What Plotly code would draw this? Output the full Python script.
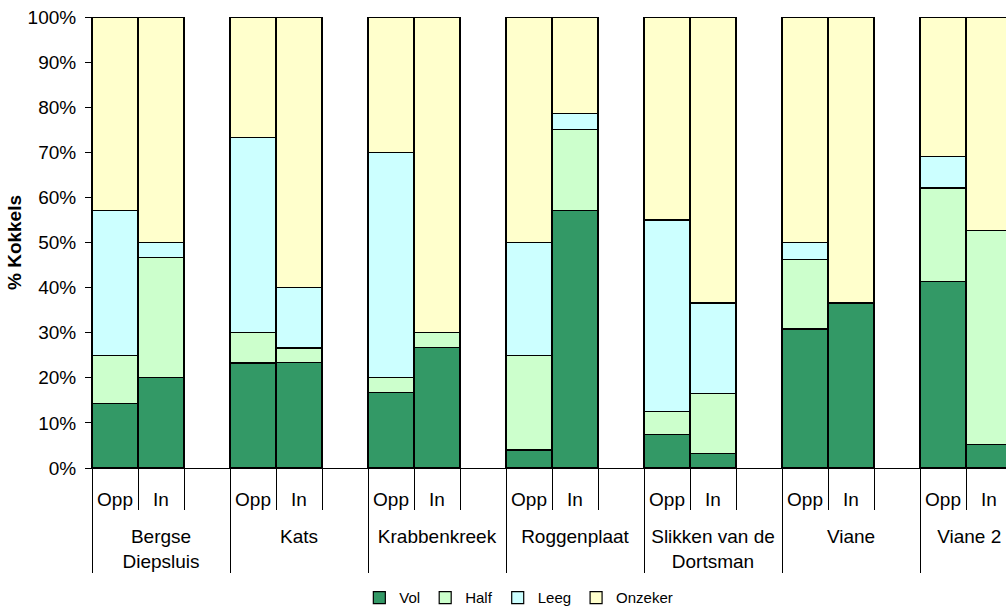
import plotly.graph_objects as go

# ---- data (percent of cockles per category) ----
sites = ["Bergse<br>Diepsluis", "Kats", "Krabbenkreek", "Roggenplaat",
         "Slikken van de<br>Dortsman", "Viane", "Viane 2"]
positions = ["Opp", "In"]

vol_opp = [14.3, 23.3, 16.7, 4.0, 7.5, 30.8, 41.4]
half_opp = [10.7, 6.7, 3.3, 21.0, 5.0, 15.4, 20.7]
leeg_opp = [32.1, 43.3, 50.0, 25.0, 42.5, 3.8, 6.9]
onz_opp = [42.9, 26.7, 30.0, 50.0, 45.0, 50.0, 31.0]

vol_in = [20.0, 23.3, 26.7, 57.1, 3.3, 36.6, 5.3]
half_in = [26.7, 3.3, 3.3, 17.9, 13.3, 0.0, 47.4]
leeg_in = [3.3, 13.3, 0.0, 3.6, 20.0, 0.0, 0.0]
onz_in = [50.0, 60.0, 70.0, 21.4, 63.4, 63.4, 47.4]

series = [
    ("Vol", vol_opp, vol_in, "#339966"),
    ("Half", half_opp, half_in, "#CCFFCC"),
    ("Leeg", leeg_opp, leeg_in, "#CCFFFF"),
    ("Onzeker", onz_opp, onz_in, "#FFFFCC"),
]

FONT = "Liberation Sans, Arial, sans-serif"
FS = 19
SLOTS = 3  # Opp, In, empty slot per site
xmax = 914 / 46  # visible part of the category axis (last group is clipped)

# x slot positions derived from category index
xpos, xlab = [], []
for i in range(len(sites)):
    for j, p in enumerate(positions):
        xpos.append(SLOTS * i + j + 0.5)
        xlab.append(p)
sub_div = [SLOTS * i + j for i in range(len(sites)) for j in (1, 2)]
grp_div = [SLOTS * i for i in range(len(sites) + 1)]
# group label centres, kept inside the visible area (like the original)
grp_ctr = [min(SLOTS * i + SLOTS / 2, xmax - 0.8) for i in range(len(sites))]

fig = go.Figure()
for name, o, n, col in series:
    vals = []
    for a, b in zip(o, n):
        vals += [a, b]
    fig.add_trace(go.Bar(
        x=xpos, y=vals, name=name, width=1,
        marker=dict(color=col, line=dict(color="black", width=1.2)),
    ))
# invisible trace to carry the secondary x axis (site labels)
fig.add_trace(go.Scatter(x=[grp_ctr[0]], y=[None], xaxis="x2", yaxis="y",
                         showlegend=False, hoverinfo="skip"))

fig.update_layout(
    width=1006, height=608,
    margin=dict(l=92, r=0, t=17, b=140, autoexpand=False),
    barmode="stack", barnorm="percent",
    paper_bgcolor="white", plot_bgcolor="white",
    font=dict(family=FONT, size=FS, color="black"),
    xaxis=dict(
        range=[0, xmax], tickmode="array", tickvals=xpos, ticktext=xlab,
        ticks="", showline=True, linecolor="black", linewidth=1,
        showgrid=False, zeroline=False, ticklabelstandoff=14,
        ticklabeloverflow="allow", tickfont=dict(size=FS),
        minor=dict(tickmode="array", tickvals=sub_div, ticks="outside",
                   ticklen=41, tickcolor="black", tickwidth=1, showgrid=False),
    ),
    xaxis2=dict(
        range=[0, xmax], overlaying="x", anchor="y", side="bottom",
        tickmode="array", tickvals=grp_ctr, ticktext=sites, ticks="",
        showline=False, showgrid=False, zeroline=False,
        ticklabelstandoff=55, ticklabeloverflow="allow", tickfont=dict(size=FS),
        minor=dict(tickmode="array", tickvals=grp_div, ticks="outside",
                   ticklen=104, tickcolor="black", tickwidth=1, showgrid=False),
    ),
    yaxis=dict(
        range=[0, 100], dtick=10, ticksuffix="%", ticks="outside", ticklen=6,
        tickcolor="black", showline=True, linecolor="black", linewidth=1,
        showgrid=False, zeroline=False, tickfont=dict(size=FS),
        ticklabelstandoff=5,
        title=dict(text="<b>% Kokkels</b>", font=dict(size=FS), standoff=0),
    ),
    legend=dict(orientation="h", x=0.467, xanchor="center", y=-0.288,
                yanchor="middle", traceorder="normal",
                font=dict(size=15), itemwidth=30),
    showlegend=True,
)

fig.write_html(
    "out.html",
    config={"displayModeBar": False},
    post_script="document.body.style.margin='0';document.body.style.overflow='hidden';",
)
